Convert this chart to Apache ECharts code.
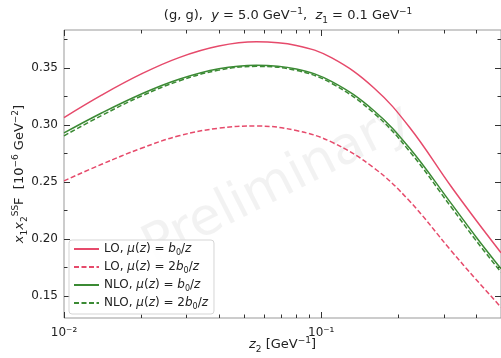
<!DOCTYPE html>
<html lang="en">
<head>
    <meta charset="UTF-8">
    <title>x1x2 SSF vs z2</title>
    <script src="https://cdn.jsdelivr.net/npm/echarts@6/dist/echarts.min.js"></script>
    <style>
        html, body { margin: 0; padding: 0; background: #fff; }
    </style>
</head>
<body>
    <div id="main" style="width: 501px;height:358px;"></div>
    <script>
        // z2 [GeV^-1] sample points, roughly even in log scale
        var z2 = [0.01, 0.014, 0.02, 0.028, 0.04, 0.056, 0.08, 0.11, 0.16, 0.22, 0.32, 0.4, 0.5];
        // LO, mu = b0/z
        var loB0 = [0.3065, 0.3262, 0.3448, 0.3591, 0.3692, 0.3729, 0.3698, 0.3588, 0.3327, 0.2982, 0.2460, 0.2165, 0.1880];
        // LO, mu = 2 b0/z
        var lo2B0 = [0.2510, 0.2655, 0.2796, 0.2905, 0.2972, 0.2991, 0.2951, 0.2849, 0.2625, 0.2335, 0.1897, 0.1645, 0.1401];
        // NLO, mu = b0/z
        var nloB0 = [0.2930, 0.3105, 0.3272, 0.3401, 0.3493, 0.3524, 0.3491, 0.3380, 0.3127, 0.2800, 0.2312, 0.2018, 0.1739];
        // NLO, mu = 2 b0/z
        var nlo2B0 = [0.2905, 0.3083, 0.3254, 0.3386, 0.3481, 0.3514, 0.3479, 0.3364, 0.3105, 0.2772, 0.2280, 0.1986, 0.1709];

        var yMajor = [0.15, 0.20, 0.25, 0.30, 0.35];
        var yMinor = [0.175, 0.225, 0.275, 0.325, 0.375];
        var xMajor = [0.01, 0.1];
        var xMinor = [0.02, 0.03, 0.04, 0.05, 0.06, 0.07, 0.08, 0.09, 0.2, 0.3, 0.4];

        var RED = '#e64a6b';
        var GREEN = '#3b8a34';
        var FONT = 'DejaVu Sans';

        function lg(v) { return Math.log10(v); }
        function pts(arr) {
            return z2.map(function (z, i) { return [lg(z), arr[i]]; });
        }

        var xMin = lg(0.01), xMax = lg(0.5);
        var yMin = 0.1307, yMax = 0.3833;

        function xAx(pos, vals, len, labels) {
            return {
                type: 'value', position: pos, min: xMin, max: xMax,
                axisLine: { show: false },
                splitLine: { show: false },
                axisTick: { show: true, inside: true, length: len, customValues: vals.map(lg),
                    lineStyle: { color: '#333', width: 1 } },
                axisLabel: labels ? {
                    show: true, customValues: vals.map(lg), fontFamily: FONT, fontSize: 12, color: '#222', margin: 9,
                    formatter: function (v) { return Math.round(v) === -2 ? '10\u207B\u00B2' : '10\u207B\u00B9'; }
                } : { show: false }
            };
        }
        function yAx(pos, vals, len, labels) {
            return {
                type: 'value', position: pos, min: yMin, max: yMax,
                axisLine: { show: false },
                splitLine: { show: false },
                axisTick: { show: true, inside: true, length: len, customValues: vals,
                    lineStyle: { color: '#333', width: 1 } },
                axisLabel: labels ? {
                    show: true, customValues: vals, fontFamily: FONT, fontSize: 12, color: '#222', margin: 6,
                    formatter: function (v) { return v.toFixed(2); }
                } : { show: false }
            };
        }

        var nameStyle = {
            fontFamily: FONT, fontSize: 13, color: '#222',
            rich: {
                i: { fontFamily: FONT, fontStyle: 'italic', fontSize: 13, lineHeight: 18, verticalAlign: 'middle' },
                sub: { fontFamily: FONT, fontSize: 9, lineHeight: 9, verticalAlign: 'bottom' },
                sup: { fontFamily: FONT, fontSize: 9, lineHeight: 9, verticalAlign: 'top' }
            }
        };

        var xs = [xAx('bottom', xMajor, 6, true), xAx('bottom', xMinor, 3.5, false),
                  xAx('top', xMajor, 6, false), xAx('top', xMinor, 3.5, false)];
        xs[0].name = '{i|z}{sub|2} [GeV{sup|\u22121}]';
        xs[0].nameLocation = 'middle';
        xs[0].nameGap = 18;
        xs[0].nameMoveOverlap = false;
        xs[0].nameTextStyle = nameStyle;

        var ys = [yAx('left', yMajor, 6, true), yAx('left', yMinor, 3.5, false),
                  yAx('right', yMajor, 6, false), yAx('right', yMinor, 3.5, false)];
        ys[0].name = '{i|x}{sub|1}{i|x}{sub|2}{sup|SS}F  [10{sup|\u22126} GeV{sup|\u22122}]';
        ys[0].nameLocation = 'middle';
        ys[0].nameGap = 35;
        ys[0].nameRotate = 90;
        ys[0].nameMoveOverlap = false;
        ys[0].nameTextStyle = nameStyle;

        var legendNames = {
            'LO1': 'LO, {i|\u03BC}({i|z}) = {i|b}{sub|0}/{i|z}',
            'LO2': 'LO, {i|\u03BC}({i|z}) = 2{i|b}{sub|0}/{i|z}',
            'NLO1': 'NLO, {i|\u03BC}({i|z}) = {i|b}{sub|0}/{i|z}',
            'NLO2': 'NLO, {i|\u03BC}({i|z}) = 2{i|b}{sub|0}/{i|z}'
        };

        function line(name, data, color, dashed, z) {
            return {
                name: name, type: 'line', smooth: 0.4, symbol: 'none', z: z,
                xAxisIndex: 0, yAxisIndex: 0,
                lineStyle: { color: color, width: 1.5, type: dashed ? [5, 2.5] : 'solid' },
                itemStyle: { color: color },
                data: pts(data)
            };
        }

        var myChart = echarts.init(document.getElementById('main'), null, { renderer: 'canvas' });
        myChart.setOption({
            animation: false,
            textStyle: { fontFamily: FONT },
            title: {
                text: '(g, g),  {i|y} = 5.0 GeV{sup|\u22121},  {i|z}{sub|1} = 0.1 GeV{sup|\u22121}',
                left: 283, top: 2, textAlign: 'center',
                textStyle: {
                    fontFamily: FONT, fontSize: 13, fontWeight: 'normal', color: '#222',
                    rich: nameStyle.rich
                }
            },
            grid: { left: 64, right: 0, top: 30, bottom: 40, outerBoundsMode: 'none', containLabel: false,
                show: true, borderColor: '#999', borderWidth: 1, backgroundColor: 'transparent' },
            graphic: [{
                type: 'text', left: 135, top: 95, z: 0, rotation: 0.47,
                style: { text: 'Preliminary', fontFamily: FONT, fontSize: 52, fill: 'rgba(0,0,0,0.05)' }
            }],
            legend: {
                orient: 'vertical', left: 69, top: 240,
                backgroundColor: 'rgba(255,255,255,0.85)',
                borderColor: '#d5d5d5', borderWidth: 1, borderRadius: 3,
                padding: [3, 6, 3, 4], itemGap: 4, itemWidth: 25, itemHeight: 14,
                itemStyle: { opacity: 0 },
                data: ['LO1', 'LO2', 'NLO1', 'NLO2'],
                formatter: function (n) { return legendNames[n]; },
                textStyle: {
                    fontFamily: FONT, fontSize: 12, color: '#222',
                    rich: {
                        i: { fontFamily: FONT, fontStyle: 'italic', fontSize: 12, lineHeight: 16, verticalAlign: 'middle' },
                        sub: { fontFamily: FONT, fontSize: 8, lineHeight: 8, verticalAlign: 'bottom' }
                    }
                }
            },
            xAxis: xs,
            yAxis: ys,
            series: [
                line('LO1', loB0, RED, false, 3),
                line('LO2', lo2B0, RED, true, 3),
                line('NLO1', nloB0, GREEN, false, 3),
                line('NLO2', nlo2B0, GREEN, true, 4)
            ]
        });
    </script>
</body>
</html>
